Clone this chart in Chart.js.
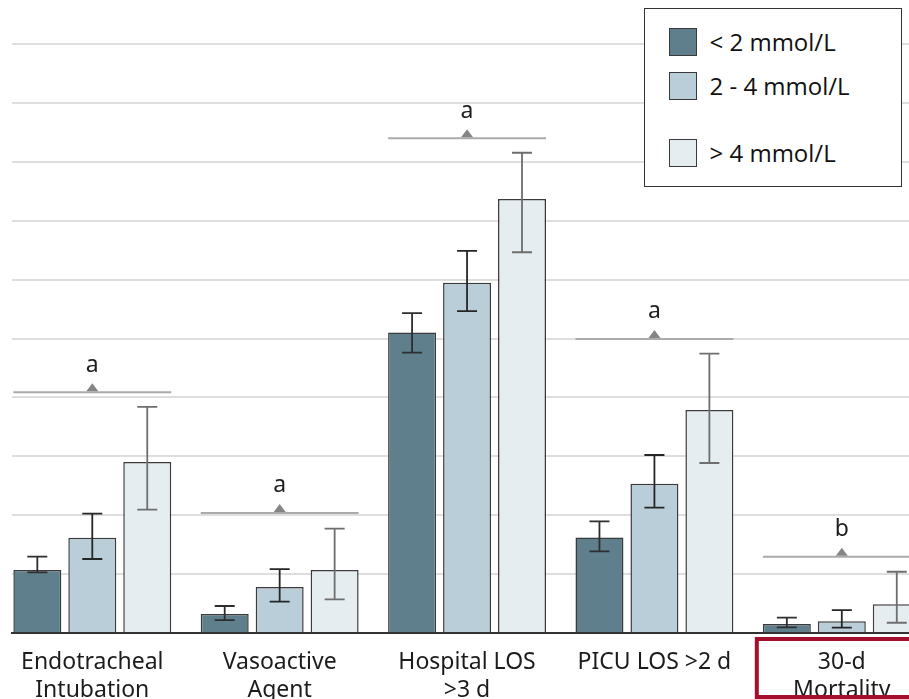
<!DOCTYPE html>
<html>
<head>
<meta charset="utf-8">
<script src="https://cdn.jsdelivr.net/npm/chart.js@4.4.1/dist/chart.umd.min.js"></script>
<style>
  html, body { margin: 0; padding: 0; background: #fff; overflow: hidden; }
  #wrap { position: relative; width: 909px; height: 699px; }
  #legend {
    position: absolute; left: 644px; top: 8px; width: 258px; height: 179px;
    box-sizing: border-box; border: 1.5px solid #333; background: #fff;
    font-family: 'Open Sans', sans-serif; font-size: 24px; color: #111;
  }
  .item { position: absolute; left: 23.5px; height: 28px; display: flex; align-items: center; white-space: nowrap; }
  .sw { width: 28px; height: 28px; box-sizing: border-box; border: 1.5px solid #3a3a3a; margin-right: 13px; }
</style>
</head>
<body>
<div id="wrap">
  <canvas id="chart" width="909" height="699"></canvas>
  <div id="legend"></div>
</div>
<script>
// Outcome categories (x axis)
const categories = [
  ['Endotracheal', 'Intubation'],
  ['Vasoactive', 'Agent'],
  ['Hospital LOS', '>3 d'],
  'PICU LOS >2 d',
  ['30-d', 'Mortality']
];

// Lactate groups
const seriesNames = ['< 2 mmol/L', '2 - 4 mmol/L', '> 4 mmol/L'];
const seriesColors = ['#5f7f8d', '#b9ced8', '#e5edf1'];
const whiskerColors = ['#2e2e2e', '#262626', '#6e6e6e'];

// Rates (%) with 95% CI bounds
const lowRate   = [5.35, 1.61, 25.5, 8.1, 0.76];
const lowLower  = [5.15, 1.10, 23.8, 6.93, 0.48];
const lowUpper  = [6.48, 2.29, 27.15, 9.48, 1.30];

const midRate   = [8.09, 3.90, 29.74, 12.67, 0.99];
const midLower  = [6.28, 2.66, 27.33, 10.64, 0.45];
const midUpper  = [10.13, 5.43, 32.43, 15.11, 1.95];

const highRate  = [14.52, 5.35, 36.84, 18.93, 2.44];
const highLower = [10.47, 2.86, 32.32, 14.43, 0.87];
const highUpper = [19.19, 8.86, 40.77, 23.71, 5.20];

// Significance brackets: height (%) and footnote letter per outcome
const sigLevel  = [20.43, 10.19, 42.0, 24.96, 6.48];
const sigMark   = ['a', 'a', 'a', 'a', 'b'];

// Outcome drawn with a highlight frame around its label
const highlightIndex = 4;

const rates  = [lowRate, midRate, highRate];
const lowers = [lowLower, midLower, highLower];
const uppers = [lowUpper, midUpper, highUpper];

const datasets = seriesNames.map((name, s) => ({
  label: name,
  data: rates[s].map((v, i) => ({ x: i, y: v })),
  backgroundColor: seriesColors[s],
  borderColor: '#3a3a3a',
  borderWidth: 1.5,
  categoryPercentage: 0.88,
  barPercentage: 0.8727
}));

// Legend as HTML
const legendTops = [18.5, 62.5, 129.5];
const legendEl = document.getElementById('legend');
seriesNames.forEach((name, s) => {
  const item = document.createElement('div');
  item.className = 'item';
  item.style.top = legendTops[s] + 'px';
  const sw = document.createElement('span');
  sw.className = 'sw';
  sw.style.background = seriesColors[s];
  const tx = document.createElement('span');
  tx.textContent = name;
  item.appendChild(sw);
  item.appendChild(tx);
  legendEl.appendChild(item);
});

const overlay = {
  id: 'overlay',
  afterDatasetsDraw(chart) {
    const { ctx, scales: { x, y } } = chart;
    ctx.save();

    // CI whiskers
    chart.data.datasets.forEach((ds, s) => {
      const meta = chart.getDatasetMeta(s);
      meta.data.forEach((bar, i) => {
        const yt = y.getPixelForValue(uppers[s][i]);
        const yb = y.getPixelForValue(lowers[s][i]);
        ctx.strokeStyle = whiskerColors[s];
        ctx.lineWidth = 1.8;
        ctx.beginPath();
        ctx.moveTo(bar.x, yt); ctx.lineTo(bar.x, yb);
        ctx.moveTo(bar.x - 10, yt); ctx.lineTo(bar.x + 10, yt);
        ctx.moveTo(bar.x - 10, yb); ctx.lineTo(bar.x + 10, yb);
        ctx.stroke();
      });
    });

    // Significance brackets
    const first = chart.getDatasetMeta(0).data;
    const last = chart.getDatasetMeta(chart.data.datasets.length - 1).data;
    sigLevel.forEach((lvl, i) => {
      const left = first[i].x - first[i].width / 2;
      const right = last[i].x + last[i].width / 2;
      const cx = x.getPixelForValue(i);
      const ly = y.getPixelForValue(lvl);
      ctx.strokeStyle = '#ababab';
      ctx.lineWidth = 2;
      ctx.beginPath();
      ctx.moveTo(left, ly); ctx.lineTo(right, ly);
      ctx.stroke();
      ctx.fillStyle = '#858585';
      ctx.beginPath();
      ctx.moveTo(cx - 6, ly - 1);
      ctx.lineTo(cx + 6, ly - 1);
      ctx.lineTo(cx, ly - 9);
      ctx.closePath();
      ctx.fill();
      ctx.fillStyle = '#1e1e1e';
      ctx.font = '23px "Noto Sans", sans-serif';
      ctx.textAlign = 'center';
      ctx.textBaseline = 'alphabetic';
      ctx.fillText(sigMark[i], cx, ly - 20.6);
    });

    // Highlight frame around one outcome label
    const hx = x.getPixelForValue(highlightIndex);
    const top = y.getPixelForValue(0) + 6;
    ctx.strokeStyle = '#a30f2c';
    ctx.lineWidth = 4;
    ctx.strokeRect(hx - 85, top, 200, chart.height - 2 - top);

    ctx.restore();
  }
};

new Chart(document.getElementById('chart'), {
  type: 'bar',
  data: { datasets },
  options: {
    responsive: false,
    animation: false,
    devicePixelRatio: 1,
    layout: { padding: { top: 44, left: 0, right: 0, bottom: 0 } },
    plugins: { legend: { display: false }, tooltip: { enabled: false } },
    scales: {
      x: {
        type: 'linear',
        bounds: 'data',
        offset: false,
        min: -0.4285,
        max: 4.3586,
        grid: { display: false },
        border: { display: true, color: '#333', width: 2 },
        // one tick per outcome
        afterBuildTicks: (s) => { s.ticks = categories.map((_, i) => ({ value: i })); },
        ticks: {
          autoSkip: false,
          maxRotation: 0,
          padding: 7,
          color: '#1c1c1c',
          font: { family: '"Noto Sans", sans-serif', size: 23, lineHeight: 1.22 },
          callback: (v) => categories[v]
        },
        afterFit: (s) => { s.height = 66; }
      },
      y: {
        min: 0,
        max: 50,
        grid: { color: '#dedede', lineWidth: 2, drawTicks: false },
        border: { display: false },
        ticks: { display: false, stepSize: 5 },
        afterFit: (s) => { s.width = 12; }
      }
    }
  },
  plugins: [overlay]
});
</script>
</body>
</html>
